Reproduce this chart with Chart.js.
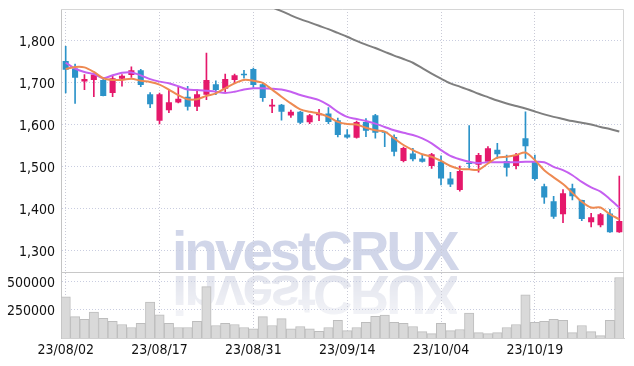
<!DOCTYPE html>
<html>
<head>
<meta charset="utf-8">
<script src="https://cdn.jsdelivr.net/npm/chart.js@4"></script>
<style>
html, body { margin: 0; padding: 0; background: #fff; }
#wrap { position: relative; width: 634px; height: 366px; overflow: hidden; }
.mark { position: absolute; left: 172px; font: bold 55px 'Liberation Sans', Arial, sans-serif; line-height: 55px; letter-spacing: -3px; white-space: nowrap; }
#mark { top: 224px; color: #d1d6e9; }
#markFlip { top: 267px; color: #e3e5ee; transform: scaleY(-1);
  -webkit-mask-image: linear-gradient(to top, rgba(0,0,0,1) 20%, rgba(0,0,0,0.35) 100%); }
#myChart { position: absolute; left: 0; top: 0; }
</style>
</head>
<body>
<div id="wrap">
  <div class="mark" id="mark">investCRUX</div>
  <div class="mark" id="markFlip">investCRUX</div>
  <canvas id="myChart" width="634" height="366"></canvas>
</div>
<script>
let dates = ["23/08/02", "23/08/03", "23/08/04", "23/08/07", "23/08/08", "23/08/09", "23/08/10", "23/08/11", "23/08/14", "23/08/16",
    "23/08/17", "23/08/18", "23/08/21", "23/08/22", "23/08/23", "23/08/24", "23/08/25", "23/08/28", "23/08/29", "23/08/30",
    "23/08/31", "23/09/01", "23/09/04", "23/09/05", "23/09/06", "23/09/07", "23/09/08", "23/09/11", "23/09/12", "23/09/13",
    "23/09/14", "23/09/15", "23/09/18", "23/09/19", "23/09/20", "23/09/21", "23/09/22", "23/09/25", "23/09/26", "23/09/27",
    "23/10/04", "23/10/05", "23/10/06", "23/10/10", "23/10/11", "23/10/12", "23/10/13", "23/10/16", "23/10/17", "23/10/18",
    "23/10/19", "23/10/20", "23/10/23", "23/10/24", "23/10/25", "23/10/26", "23/10/27", "23/10/30", "23/10/31", "23/11/01"];

let openP = [1751, 1733, 1702, 1706, 1706, 1675, 1709, 1718, 1729, 1672,
    1609, 1634, 1652, 1666, 1642, 1671, 1696, 1685, 1706, 1721,
    1732, 1696, 1643, 1647, 1621, 1630, 1605, 1622, 1626, 1610,
    1576, 1568, 1606, 1622, 1582, 1570, 1513, 1531, 1519, 1501,
    1511, 1471, 1444, 1509, 1504, 1511, 1540, 1513, 1501, 1567,
    1511, 1453, 1417, 1386, 1448, 1420, 1367, 1360, 1388, 1343];
let highP = [1786, 1744, 1719, 1721, 1711, 1715, 1719, 1737, 1731, 1676,
    1675, 1682, 1691, 1691, 1683, 1770, 1704, 1720, 1720, 1729,
    1734, 1698, 1660, 1648, 1634, 1631, 1624, 1636, 1640, 1615,
    1588, 1608, 1614, 1624, 1583, 1575, 1546, 1543, 1529, 1531,
    1525, 1486, 1501, 1597, 1531, 1547, 1555, 1527, 1531, 1630,
    1527, 1458, 1429, 1445, 1458, 1420, 1388, 1388, 1398, 1477];
let lowP = [1675, 1650, 1683, 1666, 1668, 1666, 1691, 1712, 1690, 1640,
    1601, 1628, 1651, 1634, 1633, 1659, 1671, 1677, 1698, 1710,
    1688, 1655, 1628, 1610, 1617, 1602, 1602, 1609, 1602, 1570,
    1567, 1567, 1571, 1567, 1547, 1525, 1511, 1513, 1510, 1495,
    1456, 1452, 1441, 1495, 1486, 1509, 1519, 1477, 1494, 1519,
    1467, 1412, 1376, 1366, 1420, 1371, 1356, 1356, 1343, 1343];
let closeP = [1730, 1711, 1708, 1719, 1668, 1710, 1716, 1729, 1694, 1648,
    1672, 1653, 1661, 1642, 1672, 1706, 1682, 1708, 1717, 1717,
    1694, 1663, 1647, 1630, 1630, 1604, 1622, 1626, 1606, 1575,
    1569, 1606, 1585, 1580, 1580, 1535, 1544, 1517, 1511, 1529,
    1471, 1457, 1489, 1506, 1527, 1543, 1529, 1497, 1527, 1548,
    1470, 1426, 1380, 1436, 1429, 1375, 1379, 1386, 1343, 1370];

let maShort = [1732, 1737, 1736, 1725, 1710, 1706, 1706, 1709, 1704, 1701,
    1695, 1683, 1670, 1660, 1660, 1668, 1674, 1686, 1698, 1706,
    1704, 1699, 1683, 1666, 1650, 1636, 1630, 1626, 1618, 1606,
    1601, 1600, 1592, 1586, 1583, 1567, 1551, 1539, 1529, 1523,
    1513, 1501, 1494, 1493, 1492, 1507, 1521, 1523, 1527, 1533,
    1515, 1491, 1474, 1458, 1437, 1416, 1402, 1402, 1386, 1374];
let maMid = [1747, 1733, 1725, 1720, 1710, 1717, 1723, 1724, 1717, 1708,
    1702, 1698, 1691, 1683, 1682, 1680, 1678, 1675, 1678, 1683,
    1686, 1686, 1685, 1683, 1678, 1670, 1664, 1658, 1646, 1630,
    1618, 1613, 1608, 1602, 1594, 1586, 1580, 1575, 1567, 1555,
    1539, 1525, 1517, 1511, 1508, 1510, 1510, 1510, 1510, 1511,
    1511, 1510, 1499, 1491, 1479, 1463, 1450, 1440, 1422, 1402];
let maLong = [null, null, null, null, null, null, null, null, null, null,
    null, null, null, null, null, null, null, null, 1917, 1908,
    1898, 1889, 1879, 1870, 1860, 1851, 1843, 1835, 1827, 1818,
    1809, 1799, 1790, 1782, 1773, 1764, 1756, 1747, 1734, 1721,
    1709, 1698, 1690, 1682, 1673, 1665, 1657, 1650, 1644, 1638,
    1631, 1624, 1618, 1613, 1608, 1604, 1600, 1594, 1589, 1583];

let volume = [364000, 190000, 166000, 229000, 175000, 148000, 120000, 93000, 130000, 319000,
    205000, 130000, 93000, 93000, 148000, 455000, 111000, 130000, 120000, 93000,
    81000, 190000, 111000, 172000, 81000, 102000, 81000, 60000, 93000, 157000,
    66000, 93000, 139000, 193000, 202000, 139000, 130000, 102000, 57000, 39000,
    130000, 66000, 75000, 220000, 48000, 39000, 48000, 93000, 120000, 382000,
    139000, 148000, 166000, 157000, 48000, 111000, 57000, 21000, 157000, 536000];

let priceTicks = [1300, 1400, 1500, 1600, 1700, 1800];
let volumeTicks = [250000, 500000];

const upColor = "#e5186b";
const downColor = "#2c93c9";
const tickFont = { family: "'Liberation Sans Narrow', 'DejaVu Sans Condensed', 'Liberation Sans', sans-serif", size: 14 };

let candleColors = openP.map((o, i) => closeP[i] >= o ? upColor : downColor);
let bodies = openP.map((o, i) => [o, closeP[i]]);
let wicks = lowP.map((l, i) => [l, highP[i]]);

// light frame round the plot and the line between price and volume
const frame = {
    id: "frame",
    beforeDatasetsDraw(chart) {
        const a = chart.chartArea;
        const ctx = chart.ctx;
        const split = chart.scales.yVol.top;
        ctx.save();
        ctx.lineWidth = 1;
        ctx.strokeStyle = "#d6d6d6";
        ctx.beginPath();
        ctx.moveTo(a.left, a.top + 0.5);
        ctx.lineTo(a.right - 0.5, a.top + 0.5);
        ctx.lineTo(a.right - 0.5, a.bottom);
        ctx.stroke();
        ctx.strokeStyle = "#c8c8c8";
        ctx.beginPath();
        ctx.moveTo(a.left, Math.round(split) + 0.5);
        ctx.lineTo(a.right, Math.round(split) + 0.5);
        ctx.stroke();
        ctx.restore();
    }
};

function fitLeft(s) {
    s.width = 61;
    s.paddingTop = 0;
    s.paddingBottom = 0;
}

new Chart("myChart", {
    data: {
        labels: dates,
        datasets: [
            { type: "line", data: maShort, borderColor: "#ee8a52", borderWidth: 2, pointRadius: 0, tension: 0.3, yAxisID: "y", order: 0 },
            { type: "line", data: maMid, borderColor: "#c55ff0", borderWidth: 2, pointRadius: 0, tension: 0.3, yAxisID: "y", order: 0 },
            { type: "line", data: maLong, borderColor: "#7f7f7f", borderWidth: 2, pointRadius: 0, tension: 0.3, yAxisID: "y", order: 0 },
            { type: "bar", data: bodies, backgroundColor: candleColors, borderWidth: 0, barPercentage: 0.65, categoryPercentage: 1,
              minBarLength: 1, grouped: false, yAxisID: "y", order: 1 },
            { type: "bar", data: wicks, backgroundColor: candleColors, borderWidth: 0, barThickness: 1, grouped: false, yAxisID: "y", order: 2 },
            { type: "bar", data: volume, backgroundColor: "#d9d9d9", borderColor: "#bdbdbd", borderWidth: 1, borderSkipped: "bottom",
              barPercentage: 1, categoryPercentage: 1, grouped: false, yAxisID: "yVol", order: 3 }
        ]
    },
    options: {
        responsive: false,
        animation: false,
        events: [],
        layout: { padding: { top: 9, right: 10, left: 0, bottom: 0 } },
        plugins: { legend: { display: false }, title: { display: false }, tooltip: { enabled: false } },
        scales: {
            x: {
                type: "category",
                offset: true,
                afterFit: s => { s.height = 28; s.paddingRight = 0; },
                grid: { offset: false, drawTicks: false, color: c => c.index % 10 === 0 ? "#c9cad6" : "rgba(0,0,0,0)" },
                border: { display: true, color: "#d0d0d0", dash: [1, 2] },
                ticks: { autoSkip: false, maxRotation: 0, padding: 4, color: "#111", font: tickFont,
                         callback: (v, i) => i % 10 === 0 ? dates[i] : "" }
            },
            y: {
                type: "linear",
                position: "left",
                stack: "panels",
                stackWeight: 4,
                weight: 1,
                min: 1248,
                max: 1875,
                afterFit: fitLeft,
                afterBuildTicks: s => { s.ticks = priceTicks.map(v => ({ value: v })); },
                grid: { drawTicks: false, color: "#c9cde0" },
                border: { display: true, color: "#c4c4c4", dash: [1, 2] },
                ticks: { padding: 6, labelOffset: 2, color: "#111", font: tickFont, callback: v => v.toLocaleString("en-US") }
            },
            yVol: {
                type: "linear",
                position: "left",
                stack: "panels",
                stackWeight: 1,
                weight: 0,
                min: 0,
                max: 583000,
                afterFit: fitLeft,
                afterBuildTicks: s => { s.ticks = volumeTicks.map(v => ({ value: v })); },
                grid: { drawTicks: false, color: "#c9cde0" },
                border: { display: true, color: "#c4c4c4", dash: [1, 2] },
                ticks: { padding: 6, labelOffset: 2, color: "#111", font: tickFont, callback: v => String(v) }
            }
        }
    },
    plugins: [frame]
});
</script>
</body>
</html>
